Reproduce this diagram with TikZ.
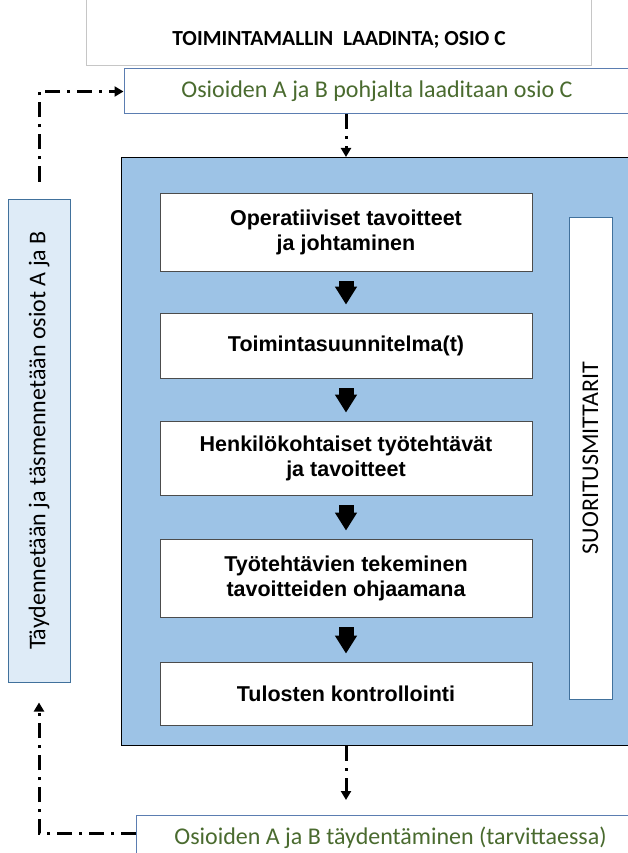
\documentclass[tikz,border=0pt]{standalone}
\usepackage{fontspec}
\setmainfont{Carlito}
\newfontfamily\arialfont{Liberation Sans}
\usetikzlibrary{arrows.meta}

\definecolor{procblue}{HTML}{9DC3E6}
\definecolor{sidefill}{HTML}{DEEBF7}
\definecolor{sideline}{HTML}{41719C}
\definecolor{greenline}{HTML}{5B7DB1}
\definecolor{greentext}{HTML}{4A6B2F}

\begin{document}
\begin{tikzpicture}[x=1pt,y=-1pt,
  greenbox/.style={draw=greenline, line width=1pt, fill=white, text=greentext,
    minimum height=45pt, font=\fontsize{24}{28}\selectfont},
  stepbox/.style={draw=black!70, line width=0.8pt, fill=white, minimum width=372pt,
    align=center, font=\arialfont\bfseries\fontsize{21.5}{25}\selectfont},
  sidebox/.style={draw=sideline, line width=1pt, rotate=90, font=\fontsize{24}{28}\selectfont},
  dashdot/.style={line width=3pt, dash pattern=on 15pt off 7pt on 3pt off 7pt,
    -{Triangle[length=9pt,width=10pt]}},
  blockarrow/.style={line width=15pt, -{Triangle[length=18pt,width=21pt]},
    shorten <=10pt, shorten >=8pt}]
  \useasboundingbox (0,0) rectangle (627,853);

  % otsikko
  \draw[gray!45] (86,-5) rectangle (591,65);
  \node[font=\bfseries\fontsize{21.5}{25}\selectfont] (title) at (339,40) {TOIMINTAMALLIN\ \ LAADINTA; OSIO C};

  \node[greenbox, minimum width=506pt] (osioA) at (377,91.5) {Osioiden A ja B pohjalta laaditaan osio C};

  % prosessi
  \node[draw=black, line width=1.2pt, fill=procblue, minimum width=520pt, minimum height=588pt,
    anchor=north west] (proc) at (121,157) {};
  \node[stepbox, minimum height=78pt] (s1) at (346,232) {Operatiiviset tavoitteet\\ja johtaminen};
  \node[stepbox, minimum height=65pt] (s2) at (346,345.5) {Toimintasuunnitelma(t)};
  \node[stepbox, minimum height=74pt] (s3) at (346,458) {Henkilökohtaiset työtehtävät\\ja tavoitteet};
  \node[stepbox, minimum height=78pt] (s4) at (346,578) {Työtehtävien tekeminen\\tavoitteiden ohjaamana};
  \node[stepbox, minimum height=63pt] (s5) at (346,693.5) {Tulosten kontrollointi};
  \foreach \a/\b in {s1/s2,s2/s3,s3/s4,s4/s5}
    \draw[blockarrow] (\a) -- (\b);

  \node[sidebox, fill=white, minimum width=482pt, minimum height=43pt] (mitt) at (590.5,458) {SUORITUSMITTARIT};

  % sivulaatikko
  \node[sidebox, fill=sidefill, minimum width=483pt, minimum height=62pt] (side) at (39,440.5)
    {Täydennetään ja täsmennetään osiot A ja B};

  \node[greenbox, minimum width=508pt, anchor=north west] (osioB) at (136,815)
    {Osioiden A ja B täydentäminen (tarvittaessa)};

  % katkoviivat
  \draw[dashdot] ([yshift=17pt]side.east) |- (osioA.west);
  \draw[dashdot, xshift=6pt] (osioA.south -| s1.north) -- (proc.north -| s1.north);
  \draw[dashdot, xshift=3pt, shorten >=15pt] (proc.south -| s5.south) -- (osioB.north -| s5.south);
  \draw[dashdot, shorten >=20pt] ([yshift=5pt]osioB.west) -| (side.west);
\end{tikzpicture}
\end{document}
